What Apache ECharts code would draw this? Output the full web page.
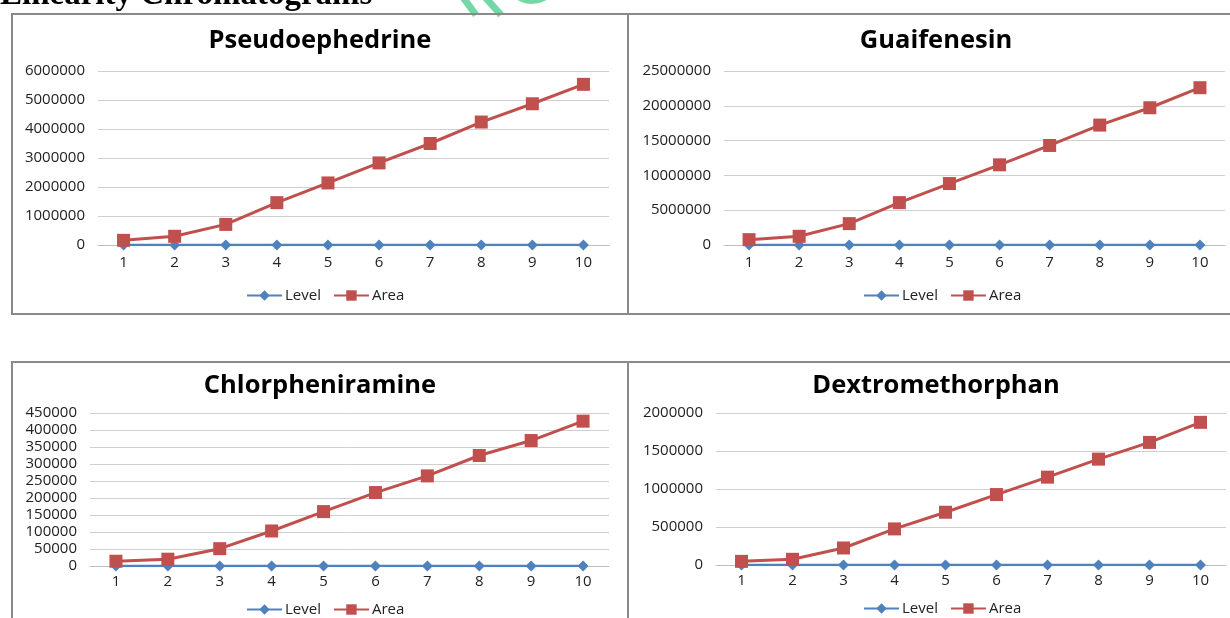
<!DOCTYPE html>
<html><head><meta charset="utf-8">
<script src="https://cdn.jsdelivr.net/npm/echarts@6/dist/echarts.min.js"></script>
<style>html,body{margin:0;padding:0;background:#fff;overflow:hidden}#c{width:1230px;height:618px}</style>
</head><body><div id="c"></div><script>
const levels = ['1','2','3','4','5','6','7','8','9','10'];
const levelValues = [1,2,3,4,5,6,7,8,9,10];
const pseudoArea = [160000,300000,710000,1460000,2140000,2830000,3500000,4240000,4870000,5540000];
const guaiArea = [770000,1250000,3070000,6090000,8830000,11520000,14300000,17230000,19720000,22600000];
const chlorArea = [14000,20000,51000,103000,160000,216000,265000,325000,369000,426000];
const dextroArea = [48000,75000,224000,475000,694000,927000,1156000,1393000,1613000,1877000];
const titles = ['Pseudoephedrine','Guaifenesin','Chlorpheniramine','Dextromethorphan'];
const yMax = [6000000,25000000,450000,2000000];
const yStep = [1000000,5000000,50000,500000];
const heading = 'Linearity Chromatograms';

const areas = [pseudoArea, guaiArea, chlorArea, dextroArea];
const FONT = '"Open Sans", sans-serif';
const grids = [
  {left:98, top:71, width:511, height:174},
  {left:724, top:71, width:501, height:174},
  {left:90, top:413, width:519, height:153},
  {left:716, top:413, width:510, height:152}
];
const titlePos = [[320,41],[936,41],[320,386],[936,386]];
const legendTop = [283,283,597,596];
const legendCenter = [320,937,320,937];
const blue = '#4f81bd', red = '#c0504d';

const option = {
  animation:false,
  backgroundColor:'#fff',
  grid: grids.map(g=>Object.assign({containLabel:false},g)),
  xAxis: grids.map((g,i)=>({
    type:'category', gridIndex:i, data:levels, boundaryGap:true,
    axisLine:{show:true,lineStyle:{color:'#bfbfbf',width:1}},
    axisTick:{show:false},
    axisLabel:{color:'#222',fontFamily:FONT,fontSize:15,margin:i<2?10:8}
  })),
  yAxis: grids.map((g,i)=>({
    type:'value', gridIndex:i, min:0, max:yMax[i], interval:yStep[i],
    axisLine:{show:false}, axisTick:{show:false},
    splitLine:{lineStyle:{color:'#cfcfcf',width:1}},
    axisLabel:{color:'#222',fontFamily:FONT,fontSize:15,margin:13,
      formatter:v=>String(v)}
  })),
  legend: grids.map((g,i)=>({
    orient:'horizontal',
    data:[{name:'Level'},{name:'Area'}],
    left:legendCenter[i]-79, top:legendTop[i], width:300,
    itemWidth:35, itemHeight:13, itemGap:12,
    textStyle:{color:'#222',fontFamily:FONT,fontSize:15,padding:[0,0,0,-2]},
    selectedMode:false
  })),
  series: [],
  graphic: []
};
for (let i=0;i<4;i++){
  option.series.push({
    name:'Level', type:'line', xAxisIndex:i, yAxisIndex:i, data:levelValues,
    symbol:'diamond', symbolSize:11, itemStyle:{color:blue},
    lineStyle:{color:blue,width:2.5}, z:2
  });
  option.series.push({
    name:'Area', type:'line', xAxisIndex:i, yAxisIndex:i, data:areas[i],
    symbol:'rect', symbolSize:13, itemStyle:{color:red},
    lineStyle:{color:red,width:3}, z:3
  });
  option.graphic.push({
    type:'text', x:titlePos[i][0], y:titlePos[i][1], z:10,
    style:{text:titles[i], font:'bold 25.5px "Open Sans", sans-serif', fill:'#000',
      textAlign:'center', textVerticalAlign:'middle'}
  });
}
// panel frames
[[12,14,616,300],[628,14,610,300],[12,362,616,262],[628,362,610,262]].forEach(r=>{
  option.graphic.push({type:'rect', shape:{x:r[0],y:r[1],width:r[2],height:r[3]},
    style:{fill:'none',stroke:'#8a8a8a',lineWidth:2}, z:1});
});
// heading (cut at top)
option.graphic.push({type:'text', x:0, y:-21, z:10,
  style:{text:heading, font:'bold 33px "Liberation Serif", serif', fill:'#000',
    textAlign:'left', textVerticalAlign:'top'}});
// watermark strokes
option.graphic.push({type:'polyline', z:0, shape:{points:[[462,-4],[476,15]]},
  style:{stroke:'#76d7a6',lineWidth:7,fill:'none'}});
option.graphic.push({type:'polyline', z:0, shape:{points:[[484,-4],[501,15]]},
  style:{stroke:'#76d7a6',lineWidth:7,fill:'none'}});
option.graphic.push({type:'arc', z:0, shape:{cx:532,cy:-24,r:25,startAngle:0.3,endAngle:2.6},
  style:{stroke:'#76d7a6',lineWidth:6,fill:'none'}});

const chart = echarts.init(document.getElementById('c'), null, {renderer:'canvas'});
chart.setOption(option);
</script></body></html>
